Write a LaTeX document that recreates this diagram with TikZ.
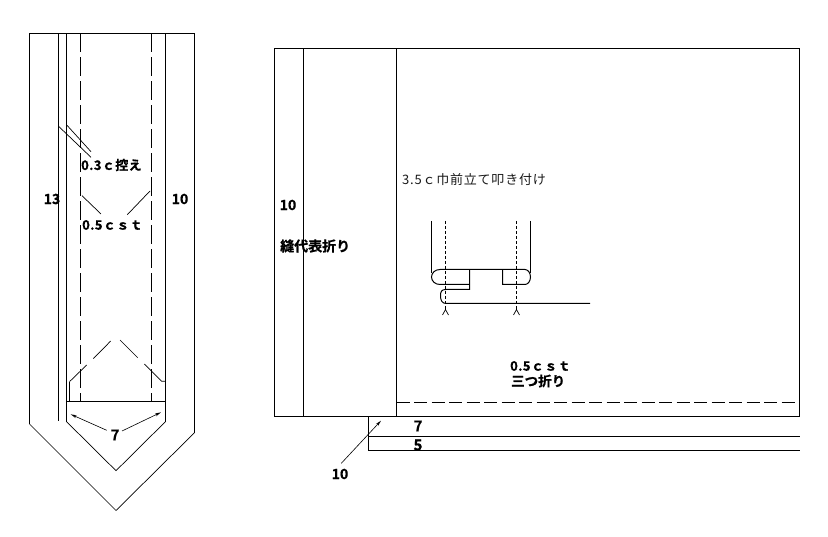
\documentclass[tikz,border=0pt]{standalone}
\usepackage{fontspec}
\setmainfont{Liberation Sans}
\newfontfamily\jpbold[LetterSpace=3,FakeBold=0.8]{Noto Sans CJK JP Bold}
\newfontfamily\jpboldk[FakeBold=0.8]{Noto Sans CJK JP Bold}
\newfontfamily\jpreg[LetterSpace=6]{Noto Sans CJK JP}
\usetikzlibrary{arrows.meta}
\tikzset{
  ln/.style={line width=1pt,black},
  thin ln/.style={line width=0.7pt,black},
  longdash/.style={line width=1pt,dash pattern=on 19pt off 5pt},
  hdash/.style={line width=1pt,dash pattern=on 13pt off 4.5pt},
  smalldash/.style={line width=0.8pt,dash pattern=on 3pt off 2pt},
  openarrow/.style={line width=0.6pt,-{Stealth[open,length=6pt,width=3pt]}},
  lab/.style={inner sep=0,font=\fontsize{13}{13}\jpbold},
  labk/.style={inner sep=0,font=\fontsize{13.5}{13.5}\jpboldk},
  digit/.style={inner sep=0,font=\fontsize{15}{15}\jpboldk},
  num/.style={inner sep=0,font=\fontsize{14}{14}\jpboldk},
  reg/.style={inner sep=0,text=black!90,font=\fontsize{13}{13}\jpreg},
}
\begin{document}
\begin{tikzpicture}[x=1pt,y=-1pt]
\useasboundingbox[fill=white] (0,0) rectangle (828,537);
% left garment
\draw[ln] (29.5,424) -- (29.5,33.5) -- (194.5,33.5) -- (194.5,432.7);
\draw[thin ln] (29.5,424) -- (116,510.5) -- (194.5,432.7);
\draw[ln] (58.5,33.5) -- (58.5,420.7);
\draw[ln] (66.5,33.5) -- (66.5,421.6);
\draw[ln] (165.5,33.5) -- (165.5,421.6);
\draw[thin ln] (66.5,421.6) -- (116,470.7) -- (165.5,421.6);
\draw[ln] (66.5,401.5) -- (165.5,401.5);
\draw[longdash] (80.5,33.5) -- (80.5,401);
\draw[longdash] (151.5,33.5) -- (151.5,401);
\draw[ln] (69.5,401) -- (69.5,381.7);
\draw[thin ln] (69.5,381.7) -- (86.7,365) (93.3,358.7) -- (110.7,341);
\draw[thin ln] (120,340) -- (137.7,357.7) (144.3,364) -- (161.7,381.3) -- (165,381.3);
% leaders
\draw[thin ln] (59,126.7) -- (91,157.3);
\draw[thin ln] (67,125.3) -- (91,151.7);
\draw[thin ln] (82,195.7) -- (101,214);
\draw[thin ln] (150,191) -- (127.3,214.7);
\node[digit] (sevenL) at (115,435) {7};
\draw[openarrow] (106.7,430.3) -- (70.7,414.3);
\draw[openarrow] (122,431) -- (161,412.3);
\node[lab,anchor=west] (hikae) at (81,165) {0.3ｃ控え};
\node[lab,anchor=west] (cstL) at (82,225) {0.5ｃｓｔ};
\node[num] (thirteen) at (52,199) {13};
\node[num] (tenL) at (180,199) {10};
% main panel
\draw[ln] (274.5,48.5) rectangle (799.5,416.5);
\draw[ln] (303.5,48.5) -- (303.5,416.5);
\draw[ln] (396.5,48.5) -- (396.5,416.5);
\draw[hdash] (396.5,402.5) -- (799.5,402.5);
\draw[ln] (368.5,416.5) -- (368.5,450.5) -- (799.5,450.5);
\draw[ln] (368.5,436.5) -- (799.5,436.5);
\draw[openarrow] (341.3,463.3) -- (381,420.7);
\node[num] (tenB) at (340,474) {10};
\node[digit] (sevenB) at (418,426) {7};
\node[digit] (fiveB) at (418,445) {5};
\node[num] (tenM) at (288,205) {10};
\node[labk,anchor=west,font=\fontsize{14}{14}\jpboldk] (nui) at (280,246) {縫代表折り};
\node[lab,anchor=west] (cstR) at (510,366) {0.5ｃｓｔ};
\node[labk,anchor=west] (mitsu) at (511,381) {三つ折り};
\node[reg,anchor=west] (maetate) at (402,180) {3.5ｃ巾前立て叩き付け};
% detail
\draw[ln] (431.5,221) -- (431.5,273);
\draw[ln] (530.5,221) -- (530.5,273);
\draw[smalldash] (445.5,221) -- (445.5,310);
\draw[smalldash] (516.5,221) -- (516.5,310);
\draw[ln] (469.5,284.5) -- (440,284.5) .. controls (435,284.5) and (431.5,281) .. (431.5,277) .. controls (431.5,273) and (435,269.5) .. (440,269.5) -- (525,269.5)
  .. controls (528,269.5) and (530.5,273) .. (530.5,277) .. controls (530.5,281) and (528,284.5) .. (525,284.5) -- (502.5,284.5) -- (502.5,269.5);
\draw[ln] (469.5,269.5) -- (469.5,289.5) -- (446,289.5) .. controls (441.5,289.5) and (440.5,291.5) .. (440.5,296) .. controls (440.5,300) and (442,303.5) .. (446,303.5) -- (590,303.5);
\draw[thin ln] (442.5,315) -- (445.5,309.5) -- (448.5,315);
\draw[thin ln] (513.5,315) -- (516.5,309.5) -- (519.5,315);
\end{tikzpicture}
\end{document}
